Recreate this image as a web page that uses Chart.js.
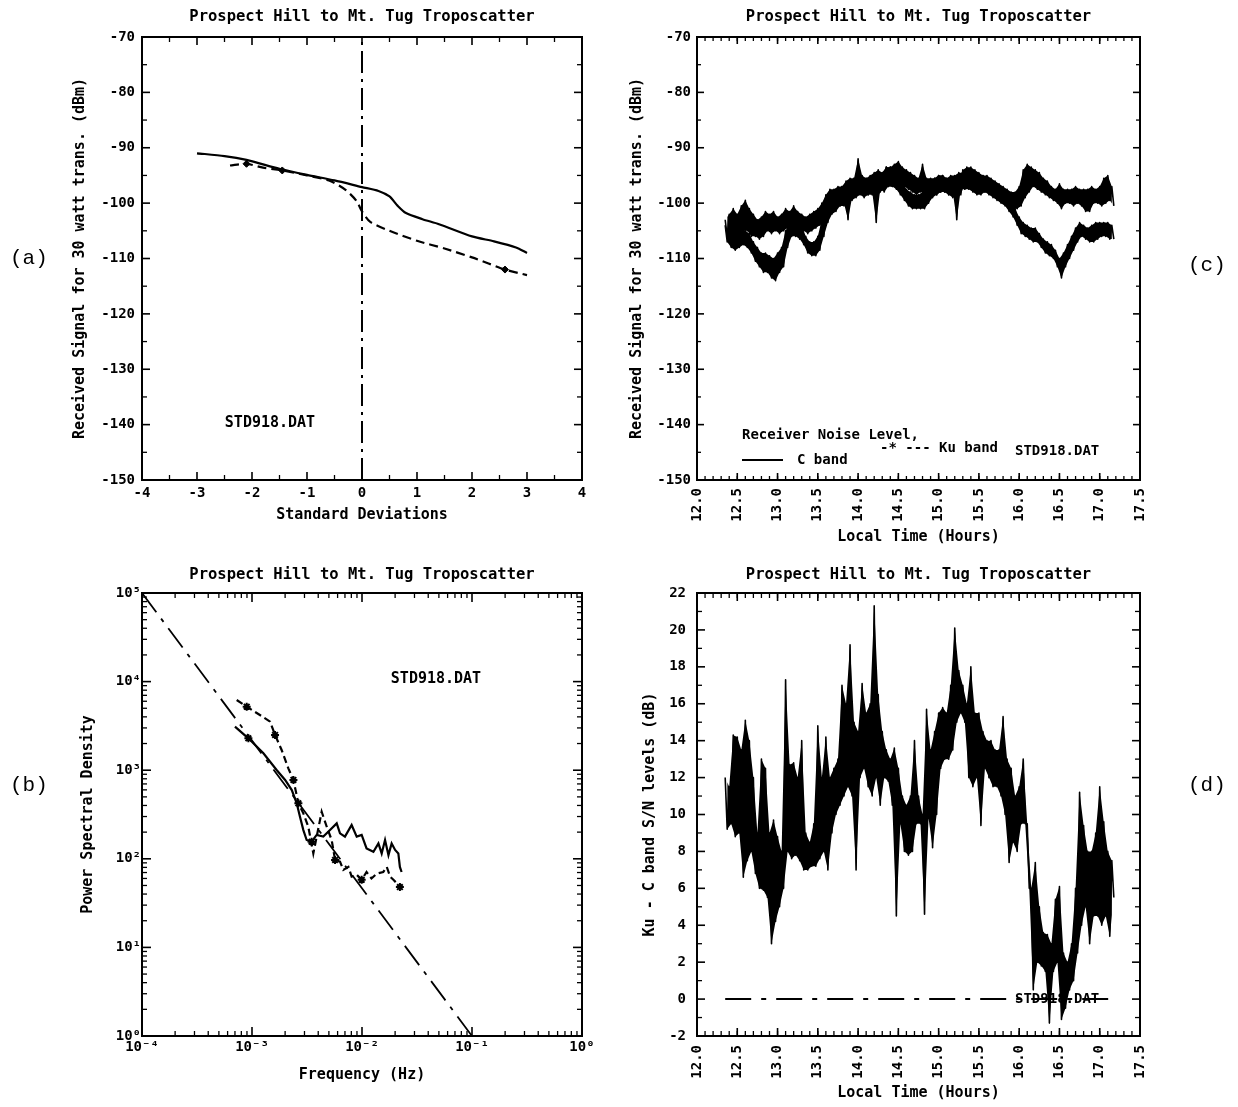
<!DOCTYPE html>
<html><head><meta charset="utf-8">
<script src="https://cdn.jsdelivr.net/npm/chart.js@4.4.1/dist/chart.umd.min.js"></script>
<style>
html,body{margin:0;padding:0;background:#fff;}
#wrap{position:relative;width:1238px;height:1107px;overflow:hidden;background:#fff;}
canvas{position:absolute;}
.t{position:absolute;font-family:'DejaVu Sans Mono',monospace;font-weight:bold;font-size:15px;color:#000;white-space:nowrap;line-height:1;}
.p{position:absolute;font-family:'Liberation Mono','Courier New',monospace;font-size:21px;color:#000;line-height:1;}
</style></head><body><div id="wrap">
<canvas id="ca" width="619" height="553" style="left:0;top:0"></canvas>
<canvas id="cc" width="619" height="553" style="left:619px;top:0"></canvas>
<canvas id="cb" width="619" height="554" style="left:0;top:553px"></canvas>
<canvas id="cd" width="619" height="554" style="left:619px;top:553px"></canvas>
<div class="p" style="left:10px;top:248px">(a)</div>
<div class="p" style="left:10px;top:775px">(b)</div>
<div class="p" style="left:1188px;top:255px">(c)</div>
<div class="p" style="left:1188px;top:775px">(d)</div>
<div class="t" style="left:270px;top:422px;transform:translate(-50%,-50%)">STD918.DAT</div>
<div class="t" style="left:436px;top:678px;transform:translate(-50%,-50%)">STD918.DAT</div>
<div class="t" style="left:742px;top:434px;transform:translateY(-50%);font-size:14px">Receiver Noise Level,</div>
<div class="t" style="left:880px;top:447px;transform:translateY(-50%);font-size:14px">-* --- Ku band</div>
<div style="position:absolute;left:742px;top:459px;width:41px;border-top:2px solid #000"></div>
<div class="t" style="left:797px;top:459px;transform:translateY(-50%);font-size:14px">C band</div>
<div class="t" style="left:1015px;top:450px;transform:translateY(-50%);font-size:14px">STD918.DAT</div>
<div class="t" style="left:1015px;top:998px;transform:translateY(-50%);font-size:14px">STD918.DAT</div>
</div>
<script>
// ---------------- DATA ----------------
// (a) cumulative distribution vs standard deviations
const sdC  = [-3.0,-2.5,-2.1,-1.5,-1.0,-0.5,0,0.3,0.5,0.65,0.8,1.1,1.4,2.0,2.4,2.8,3.0];
const sigC = [-91.0,-91.5,-92.2,-93.8,-94.9,-95.9,-97.1,-97.8,-98.8,-100.5,-101.8,-102.9,-103.8,-106.0,-106.9,-108.0,-109.0];
const sdKu  = [-2.4,-2.1,-1.8,-1.45,-1.0,-0.6,-0.3,-0.1,0,0.15,0.5,1.0,1.5,2.0,2.3,2.6,3.0];
const sigKu = [-93.2,-92.9,-93.6,-94.1,-95.0,-95.9,-97.6,-99.6,-101.5,-103.4,-105.0,-106.8,-108.2,-109.8,-110.9,-112.0,-113.0];
const kuMarkA = [1,3,15];
const medianSd = [0,0];
const medianSig = [-150,-70];

// (b) power spectral density
const freqC = [0.00070,0.000927,0.00127,0.001675,0.0020,0.0023,0.00255,0.00273,0.00293,0.00314,0.00348,0.00387,0.00445,0.00512,0.00589,0.00631,0.0070,0.00805,0.00895,0.00993,0.0110,0.0127,0.0141,0.0151,0.0162,0.0174,0.0186,0.0200,0.0214,0.0221,0.0229];
const psdC  = [3100,2290,1550,1005,776,597,423,299,211,163,156,186,178,211,251,194,178,241,178,186,131,120,149,115,163,110,149,126,115,81,71];
const freqKu = [0.000726,0.000895,0.00118,0.00146,0.00162,0.00186,0.00214,0.00238,0.00264,0.00293,0.00325,0.00361,0.0043,0.00478,0.0053,0.00569,0.00631,0.00676,0.00752,0.00805,0.00895,0.00993,0.0110,0.0122,0.0136,0.0156,0.0168,0.0180,0.0193,0.0207,0.0221,0.0230];
const psdKu  = [6200,5210,4200,3530,2500,1690,1050,776,423,326,230,115,340,230,163,97,93,75,81,63,66,58,71,60,68,71,81,63,58,53,48,51];
const cMarkB = [1,10];
const kuMarkB = [1,4,7,8,15,21,30];
const refLineF = [1e-4,1e-1];
const refLineP = [1e5,1];
const psdXValues = [1e-4,1e-3,1e-2,1e-1,1];
const psdXLabels = ['10⁻⁴','10⁻³','10⁻²','10⁻¹','10⁰'];
const psdYValues = [1,10,100,1000,10000,100000];
const psdYLabels = ['10⁰','10¹','10²','10³','10⁴','10⁵'];

// (c),(d) time series, sampled every 0.05 h from 12.35 h (upper / lower envelope of the trace)
const hourStart = 12.35, hourStep = 0.05;
const cBandHi = [-103,-102,-101,-102,-100.5,-99.5,-101,-102,-103,-102.5,
 -101.5,-102,-101.5,-102.5,-102,-101,-101.5,-100.5,-101.5,-102,
 -102.5,-102,-101.5,-101,-100,-98.5,-97.5,-97.5,-97,-97,
 -96,-95.5,-95.5,-92,-95,-95.5,-95,-94.5,-94,-94.5,
 -93.5,-93.5,-93,-92.5,-93.5,-94,-94.5,-95,-95.5,-93,
 -95.5,-95.5,-95.5,-95,-95,-95.5,-95,-95,-94.5,-94.5,
 -94.5,-95,-95,-95,-95,-95,-95.5,-96,-96.5,-97,
 -97.5,-98,-98,-97,-94,-93,-93.5,-94,-94.5,-95.5,
 -96,-97,-97.5,-96.5,-97.5,-97.5,-97.5,-97,-97.5,-97.5,
 -97.5,-97,-97.5,-97,-95.5,-95,-97];
const cBandLo = [-106,-106,-105,-106.5,-105,-105,-106,-106,-106.5,-106,
 -105,-105.5,-105,-105.5,-105,-104.5,-105,-104,-104.5,-105,
 -105.5,-105,-104.5,-104,-103.5,-102,-101,-100.5,-100.5,-100,
 -103,-99,-98.5,-98,-98.5,-98.5,-98,-103.5,-97.5,-98,
 -97,-97,-96.5,-96.5,-97,-97.5,-98,-98.5,-98,-98,
 -98.5,-98,-98.5,-98,-98,-98.5,-98,-103,-97.5,-97.5,
 -97.5,-98,-98.5,-98.5,-98,-98,-98.5,-99,-99.5,-100,
 -100,-101,-101,-100.5,-99,-98,-97,-97.5,-98,-98.5,
 -99,-99.5,-100,-101,-100,-100,-100.5,-100,-100.5,-101.5,
 -101.5,-100,-100,-100.5,-100,-99.5,-100.5];
const kuBandHi = [-104,-105,-105,-105,-104.5,-105,-105.5,-107,-108,-109,
 -109,-109.5,-110,-109,-108,-105,-103.5,-103,-103.5,-104,
 -106,-107,-107,-106,-103,-100.5,-99,-98,-97.5,-97,
 -96.5,-96,-95.5,-95.5,-95.5,-95.5,-95.5,-95.5,-95,-94.5,
 -93.5,-93.5,-94,-95,-96,-97.5,-98,-98.5,-98.5,-98,
 -97,-96,-95.5,-95,-95,-95.5,-96,-96,-95.5,-94,
 -93.5,-93.5,-94,-94.5,-95,-95.5,-96,-96.5,-97,-98,
 -99,-99.5,-101,-102.5,-103.5,-104,-104.5,-104.5,-105.5,-106.5,
 -107,-107.5,-108.5,-110,-109,-107.5,-106,-104.5,-103.5,-104,
 -104.5,-104,-103.5,-103.5,-103.5,-103.5,-104];
const kuBandLo = [-107,-108,-108.5,-108,-107.5,-108,-109,-110.5,-111.5,-112.5,
 -112.5,-113.5,-114,-112.5,-111.5,-108,-106,-106,-106.5,-107.5,
 -109,-109.5,-109.5,-108.5,-106,-103.5,-102,-101.5,-100.5,-100.5,
 -100,-99.5,-99,-98.5,-99,-98.5,-98.5,-99.5,-98,-97.5,
 -97,-97,-97.5,-98.5,-99.5,-100.5,-101,-101,-101,-101,
 -100,-99,-98.5,-98,-98,-98.5,-99,-99,-98.5,-96.5,
 -96,-96,-97,-97.5,-98,-98.5,-99,-99.5,-100,-100.5,
 -101.5,-102.5,-104,-105.5,-106,-106.5,-107,-107,-108,-109,
 -109.5,-110,-111.5,-113.5,-111.5,-110,-108.5,-107,-106,-106.5,
 -107,-107,-106.5,-106,-106,-106.5,-106.5];
const diffHi = [12.0,11.5,14.3,14.2,13.5,15.1,14.0,12.0,9.0,13.0,
 12.5,9.0,9.7,8.8,8.0,17.3,12.7,12.8,12.0,14.0,
 9.0,8.5,9.5,14.8,12.0,14.2,12.0,12.5,13.0,17.0,
 16.0,19.2,15.0,14.5,17.1,15.5,16.0,21.3,16.5,14.5,
 13.5,13.0,13.6,12.5,11.0,10.5,11.0,14.0,11.0,10.0,
 15.7,13.5,14.5,15.5,15.8,15.5,17.0,20.1,17.8,17.0,
 16.0,18.0,15.5,15.5,14.5,14.0,14.0,13.5,13.5,15.3,
 13.0,12.5,11.0,11.5,13.0,9.5,6.0,7.4,5.0,3.6,
 3.5,3.0,5.4,6.1,2.5,2.0,3.0,6.0,11.2,9.4,
 8.0,8.0,9.0,11.5,9.6,8.0,7.5];
const diffLo = [9.2,9.5,8.8,9.0,6.6,7.5,8.0,6.8,6.0,5.9,
 5.5,3.0,4.2,5.0,6.0,8.0,7.6,7.8,7.5,7.0,
 7.0,7.2,7.2,7.6,8.0,7.0,9.0,10.0,10.5,11.0,
 11.5,11.0,7.0,12.0,12.5,11.5,11.0,12.0,10.5,12.0,
 11.8,10.5,4.5,9.5,8.0,7.8,8.0,9.5,9.5,4.6,
 9.8,8.2,10.0,12.5,13.0,13.0,13.5,15.0,15.5,15.0,
 12.0,11.5,12.0,9.4,12.5,12.0,11.5,11.5,11.0,10.0,
 7.4,8.5,8.0,9.5,9.5,6.0,0.5,2.0,1.8,1.5,
 -1.3,1.5,2.0,-1.1,-0.5,0.5,1.0,2.5,4.0,5.0,
 3.0,4.5,4.5,4.0,4.5,3.4,5.5];
const zeroLineHours = [12.35,17.15];
const zeroLineLevel = [0,0];

const TITLE = 'Prospect Hill to Mt. Tug Troposcatter';

// ---------------- HELPERS ----------------
const FONT = "'DejaVu Sans Mono','DejaVu Sans',monospace";
Chart.defaults.font.family = FONT;
Chart.defaults.font.size = 14;
Chart.defaults.font.weight = 'bold';
Chart.defaults.color = '#000';

const range = (a,b,s) => { const r=[]; for(let v=a; v<=b+1e-9; v+=s) r.push(+v.toFixed(6)); return r; };
const pts = (xs,ys) => xs.map((x,i)=>({x:x, y:ys[i]}));
const edge = (vals, off) => vals.map((v,i)=>({x:+(hourStart+i*hourStep+off).toFixed(4), y:v}));
const band = (hi,lo) => { const r=[]; hi.forEach((h,i)=>{ const t=hourStart+i*hourStep; r.push({x:+t.toFixed(4),y:h}); r.push({x:+(t+hourStep/2).toFixed(4),y:lo[i]}); }); return r; };
const marks = (n, idx, r) => Array.from({length:n},(_,i)=>idx.includes(i)?r:0);
const logMinor = (k0,k1) => { const r=[]; for(let k=k0;k<=k1;k++) for(let m=2;m<=9;m++) r.push(m*Math.pow(10,k)); return r; };

// a trace drawn as a filled envelope plus the zig-zag between its extremes
function traceSets(name, hi, lo){
  return [
    {label:name+' upper', data:edge(hi,0), borderColor:'rgba(0,0,0,0)', borderWidth:1, pointRadius:0, tension:0, fill:false},
    {label:name+' lower', data:edge(lo,hourStep/2), borderColor:'rgba(0,0,0,0)', borderWidth:1, pointRadius:0, tension:0, fill:'-1', backgroundColor:'#000'},
    {label:name, data:band(hi,lo), borderColor:'#000', borderWidth:1.6, pointRadius:0, tension:0, borderJoinStyle:'round'}
  ];
}

const frameTicks = {
  id:'frameTicks',
  afterDraw(chart, args, o){
    const {ctx, chartArea:a} = chart; const xs = chart.scales.x, ys = chart.scales.y;
    ctx.save(); ctx.strokeStyle='#000'; ctx.lineCap='butt'; ctx.setLineDash([]);
    const seg=(x1,y1,x2,y2)=>{ctx.beginPath();ctx.moveTo(x1,y1);ctx.lineTo(x2,y2);ctx.stroke();};
    const doX=(vals,len)=>vals.forEach(v=>{const p=xs.getPixelForValue(v); if(p<a.left-0.5||p>a.right+0.5) return; seg(p,a.bottom,p,a.bottom-len); seg(p,a.top,p,a.top+len);});
    const doY=(vals,len)=>vals.forEach(v=>{const p=ys.getPixelForValue(v); if(p<a.top-0.5||p>a.bottom+0.5) return; seg(a.left,p,a.left+len,p); seg(a.right,p,a.right-len,p);});
    ctx.lineWidth=1.6;
    doX(xs.ticks.map(t=>t.value), o.major); doY(ys.ticks.map(t=>t.value), o.major);
    ctx.lineWidth=1.3;
    doX(o.xMinor||[], o.minor); doY(o.yMinor||[], o.minor);
    ctx.lineWidth=2; ctx.strokeRect(a.left,a.top,a.right-a.left,a.bottom-a.top);
    ctx.restore();
  }
};

const titleFont = {size:15, weight:'bold', family:FONT};
const chartTitleFont = {size:15.5, weight:'bold', family:FONT};
const noGrid = {display:false, drawTicks:false};
const noBorder = {display:false};
function baseOpts(padding, titlePad, ticksPlug){
  return {
    responsive:false, animation:false, devicePixelRatio:1,
    layout:{padding:padding},
    plugins:{
      legend:{display:false}, tooltip:{enabled:false},
      title:{display:true, text:TITLE, fullSize:false, font:chartTitleFont, padding:titlePad, color:'#000'},
      frameTicks:ticksPlug
    }
  };
}

// ---------------- (a) ----------------
{
  const o = baseOpts({left:69,right:37,top:0,bottom:27},{top:8,bottom:10.4},{major:8,minor:5,xMinor:range(-3.5,3.5,1),yMinor:range(-145,-75,10)});
  o.scales = {
    x:{type:'linear',min:-4,max:4,grid:noGrid,border:noBorder,ticks:{stepSize:1,maxRotation:0,padding:5},
       title:{display:true,text:'Standard Deviations',font:titleFont,padding:{top:2,bottom:2}},afterFit:s=>{s.height=46;}},
    y:{type:'linear',min:-150,max:-70,grid:noGrid,border:noBorder,ticks:{stepSize:10,padding:7},
       title:{display:true,text:'Received Signal for 30 watt trans. (dBm)',font:titleFont,padding:{top:2,bottom:2}},afterFit:s=>{s.width=73;}}
  };
  new Chart(document.getElementById('ca'),{
    type:'line',
    data:{datasets:[
      {label:'C band',data:pts(sdC,sigC),borderColor:'#000',borderWidth:2.2,pointRadius:0,tension:0.25},
      {label:'Ku band',data:pts(sdKu,sigKu),borderColor:'#000',backgroundColor:'#000',borderWidth:2.2,borderDash:[9,5],tension:0.25,
        pointStyle:'rectRot',pointRadius:marks(sdKu.length,kuMarkA,3.5),pointBorderWidth:1},
      {label:'median',data:pts(medianSd,medianSig),borderColor:'#000',borderWidth:2,borderDash:[22,6,3,6],pointRadius:0}
    ]},
    options:o, plugins:[frameTicks]
  });
}

// ---------------- (b) ----------------
{
  const o = baseOpts({left:77,right:37,top:0,bottom:21},{top:13,bottom:8.4},{major:9,minor:5,xMinor:logMinor(-4,-1),yMinor:logMinor(0,4)});
  o.scales = {
    x:{type:'logarithmic',min:1e-4,max:1,grid:noGrid,border:noBorder,
       afterBuildTicks:s=>{s.ticks=psdXValues.map(v=>({value:v}));},
       ticks:{autoSkip:false,maxRotation:0,padding:3,callback:(v,i)=>psdXLabels[i]},
       title:{display:true,text:'Frequency (Hz)',font:titleFont,padding:{top:2,bottom:2}},afterFit:s=>{s.height=50;}},
    y:{type:'logarithmic',min:1,max:1e5,grid:noGrid,border:noBorder,
       afterBuildTicks:s=>{s.ticks=psdYValues.map(v=>({value:v}));},
       ticks:{autoSkip:false,padding:1,callback:(v,i)=>psdYLabels[i]},
       title:{display:true,text:'Power Spectral Density',font:titleFont,padding:{top:2,bottom:2}},afterFit:s=>{s.width=65;}}
  };
  new Chart(document.getElementById('cb'),{
    type:'line',
    data:{datasets:[
      {label:'C band',data:pts(freqC,psdC),borderColor:'#000',backgroundColor:'#000',borderWidth:2.2,tension:0,
        pointStyle:'star',pointRadius:marks(freqC.length,cMarkB,4),pointBorderWidth:2},
      {label:'Ku band',data:pts(freqKu,psdKu),borderColor:'#000',backgroundColor:'#000',borderWidth:2.2,borderDash:[7,4],tension:0,
        pointStyle:'star',pointRadius:marks(freqKu.length,kuMarkB,4),pointBorderWidth:2},
      {label:'f^-5/3',data:pts(refLineF,refLineP),borderColor:'#000',borderWidth:1.8,borderDash:[24,8,4,8],pointRadius:0}
    ]},
    options:o, plugins:[frameTicks]
  });
}

// ---------------- (c) ----------------
{
  const o = baseOpts({left:7,right:98,top:0,bottom:5},{top:8,bottom:10.4},{major:7,minor:4,xMinor:range(12.1,17.4,0.1),yMinor:range(-145,-75,10)});
  o.scales = {
    x:{type:'linear',min:12,max:17.5,grid:noGrid,border:noBorder,
       ticks:{stepSize:0.5,minRotation:90,maxRotation:90,autoSkip:false,padding:8,callback:v=>Number(v).toFixed(1)},
       title:{display:true,text:'Local Time (Hours)',font:titleFont,padding:{top:2,bottom:2}},afterFit:s=>{s.height=68;}},
    y:{type:'linear',min:-150,max:-70,grid:noGrid,border:noBorder,ticks:{stepSize:10,padding:6},
       title:{display:true,text:'Received Signal for 30 watt trans. (dBm)',font:titleFont,padding:{top:2,bottom:2}},afterFit:s=>{s.width=71;}}
  };
  new Chart(document.getElementById('cc'),{
    type:'line',
    data:{datasets:[].concat(traceSets('C band',cBandHi,cBandLo), traceSets('Ku band',kuBandHi,kuBandLo))},
    options:o, plugins:[frameTicks]
  });
}

// ---------------- (d) ----------------
{
  const o = baseOpts({left:20,right:98,top:0,bottom:3},{top:13,bottom:8.4},{major:8,minor:5,xMinor:range(12.1,17.4,0.1),yMinor:range(-1,21,2)});
  o.scales = {
    x:{type:'linear',min:12,max:17.5,grid:noGrid,border:noBorder,
       ticks:{stepSize:0.5,minRotation:90,maxRotation:90,autoSkip:false,padding:9,callback:v=>Number(v).toFixed(1)},
       title:{display:true,text:'Local Time (Hours)',font:titleFont,padding:{top:2,bottom:2}},afterFit:s=>{s.height=68;}},
    y:{type:'linear',min:-2,max:22,grid:noGrid,border:noBorder,ticks:{stepSize:2,padding:11},
       title:{display:true,text:'Ku - C band S/N levels (dB)',font:titleFont,padding:{top:2,bottom:2}},afterFit:s=>{s.width=58;}}
  };
  new Chart(document.getElementById('cd'),{
    type:'line',
    data:{datasets:traceSets('Ku - C',diffHi,diffLo).concat([
      {label:'zero',data:pts(zeroLineHours,zeroLineLevel),borderColor:'#000',borderWidth:2,borderDash:[26,10,5,10],pointRadius:0}
    ])},
    options:o, plugins:[frameTicks]
  });
}
</script>
</body></html>
